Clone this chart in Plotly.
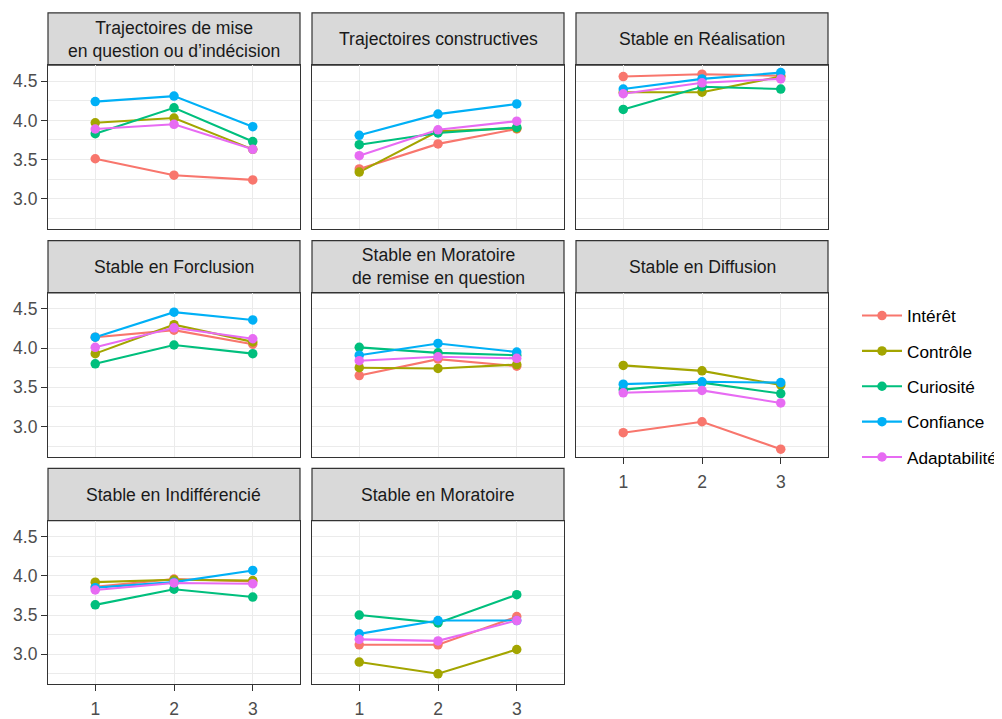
import plotly.graph_objects as go

# ---------------- data ----------------
times = [1, 2, 3]
series_names = ["Intérêt", "Contrôle", "Curiosité", "Confiance", "Adaptabilité"]
series_colors = ["#F8766D", "#A3A500", "#00BF7D", "#00B0F6", "#E76BF3"]
panel_titles = [
    "Trajectoires de mise<br>en question ou d’indécision",
    "Trajectoires constructives",
    "Stable en Réalisation",
    "Stable en Forclusion",
    "Stable en Moratoire<br>de remise en question",
    "Stable en Diffusion",
    "Stable en Indifférencié",
    "Stable en Moratoire",
]
# one list per series: 8 panels x 3 time points
interet = [[3.51, 3.30, 3.24], [3.38, 3.70, 3.89], [4.56, 4.59, 4.57], [4.14, 4.23, 4.05],
           [3.65, 3.86, 3.77], [2.92, 3.06, 2.71], [3.86, 3.96, 3.93], [3.12, 3.12, 3.48]]
controle = [[3.97, 4.03, 3.63], [3.34, 3.86, 3.90], [4.36, 4.36, 4.56], [3.93, 4.30, 4.08],
            [3.75, 3.74, 3.79], [3.78, 3.71, 3.53], [3.92, 3.95, 3.94], [2.90, 2.75, 3.06]]
curiosite = [[3.83, 4.16, 3.73], [3.69, 3.84, 3.91], [4.14, 4.43, 4.40], [3.80, 4.04, 3.93],
             [4.01, 3.94, 3.91], [3.47, 3.56, 3.42], [3.63, 3.83, 3.73], [3.50, 3.40, 3.76]]
confiance = [[4.24, 4.31, 3.92], [3.81, 4.08, 4.21], [4.40, 4.53, 4.61], [4.14, 4.46, 4.36],
             [3.91, 4.06, 3.95], [3.54, 3.57, 3.56], [3.85, 3.92, 4.07], [3.26, 3.43, 3.43]]
adaptabilite = [[3.89, 3.95, 3.63], [3.55, 3.88, 3.99], [4.34, 4.48, 4.53], [4.01, 4.26, 4.12],
                [3.84, 3.89, 3.87], [3.43, 3.46, 3.30], [3.82, 3.91, 3.90], [3.19, 3.17, 3.43]]
y_tick_vals = [3.0, 3.5, 4.0, 4.5]
y_minor_vals = [2.75, 3.25, 3.75, 4.25]
x_tick_vals = [1, 2, 3]

all_series = [interet, controle, curiosite, confiance, adaptabilite]

# ---------------- layout geometry (pixels in the browser window) ----------------
OFF = 8                       # default page body margin
W, H = 1002 - OFF, 719 - OFF  # figure size
col_x0 = [48, 312, 576]
panel_w = 252
row_top = [13, 244, 475]
strip_h = 53
panel_h = 166
FONT = "Liberation Sans, Arial, Helvetica, sans-serif"
FS = 17.6
FS_TICK = 17.5
FS_LEG = 17.2


def px(v):
    return (v - OFF) / W


def py(v):
    return 1 - (v - OFF) / H


all_vals = [v for s in all_series for p in s for v in p]
lo, hi = min(all_vals), max(all_vals)
pad = 0.05 * (hi - lo)
y_range = [lo - pad, hi + pad]
x_range = [0.4, 3.6]

fig = go.Figure()
shapes = []
annotations = []

bottom_panels = {5, 6, 7}

for i, title in enumerate(panel_titles):
    r, c = divmod(i, 3)
    x0 = col_x0[c]
    top = row_top[r]
    xa = "x" if i == 0 else f"x{i+1}"
    ya = "y" if i == 0 else f"y{i+1}"
    xkey = "xaxis" if i == 0 else f"xaxis{i+1}"
    ykey = "yaxis" if i == 0 else f"yaxis{i+1}"
    dom_x = [px(x0), px(x0 + panel_w)]
    dom_y = [py(top + strip_h + panel_h), py(top + strip_h)]
    show_x = i in bottom_panels
    show_y = c == 0
    fig.layout[xkey] = dict(
        domain=dom_x, range=x_range, anchor=ya, tickvals=x_tick_vals,
        showgrid=True, gridcolor="#EBEBEB", gridwidth=1.1, zeroline=False,
        showline=True, mirror=True, linecolor="#333333", linewidth=1.2,
        ticks="outside" if show_x else "", ticklen=6, tickcolor="#333333", tickwidth=1.1,
        ticklabelstandoff=3,
        showticklabels=show_x, tickfont=dict(family=FONT, size=FS_TICK, color="#4D4D4D"),
    )
    fig.layout[ykey] = dict(
        domain=dom_y, range=y_range, anchor=xa, tickvals=y_tick_vals, tickformat=".1f",
        showgrid=True, gridcolor="#EBEBEB", gridwidth=1.1, zeroline=False,
        minor=dict(tickvals=y_minor_vals, showgrid=True, gridcolor="#EBEBEB", gridwidth=0.6),
        showline=True, mirror=True, linecolor="#333333", linewidth=1.2,
        ticks="outside" if show_y else "", ticklen=6, tickcolor="#333333", tickwidth=1.1,
        showticklabels=show_y, tickfont=dict(family=FONT, size=FS_TICK, color="#4D4D4D"),
    )
    # strip
    shapes.append(dict(type="rect", xref="paper", yref="paper",
                       x0=dom_x[0], x1=dom_x[1],
                       y0=py(top + strip_h), y1=py(top),
                       fillcolor="#D9D9D9", line=dict(color="#333333", width=1.2), layer="below"))
    annotations.append(dict(xref="paper", yref="paper", x=(dom_x[0] + dom_x[1]) / 2,
                            y=py(top + strip_h / 2), text=title, showarrow=False,
                            xanchor="center", yanchor="middle",
                            font=dict(family=FONT, size=FS, color="#1A1A1A")))

    # lines first (all series), then points
    for s, name in enumerate(series_names):
        fig.add_trace(go.Scatter(x=times, y=all_series[s][i], mode="lines", xaxis=xa, yaxis=ya,
                                 line=dict(color=series_colors[s], width=2.1),
                                 showlegend=False, hoverinfo="skip"))
    for s, name in enumerate(series_names):
        fig.add_trace(go.Scatter(x=times, y=all_series[s][i], mode="markers", xaxis=xa, yaxis=ya,
                                 marker=dict(color=series_colors[s], size=9.5),
                                 showlegend=False, name=name))

# legend entries
for s, name in enumerate(series_names):
    fig.add_trace(go.Scatter(x=[None], y=[None], mode="lines+markers", name=name,
                             line=dict(color=series_colors[s], width=2.1),
                             marker=dict(color=series_colors[s], size=9.5),
                             legendgroup=name, showlegend=True, xaxis="x", yaxis="y"))

fig.update_layout(
    width=W, height=H,
    margin=dict(l=0, r=0, t=0, b=0),
    paper_bgcolor="white", plot_bgcolor="white",
    shapes=shapes, annotations=annotations,
    font=dict(family=FONT, size=FS, color="#000000"),
    legend=dict(x=1, y=py(302), xanchor="right", yanchor="top",
                font=dict(family=FONT, size=FS_LEG, color="#000000"),
                tracegroupgap=10, itemwidth=40, bgcolor="rgba(0,0,0,0)"),
)

fig.write_html("out.html")
